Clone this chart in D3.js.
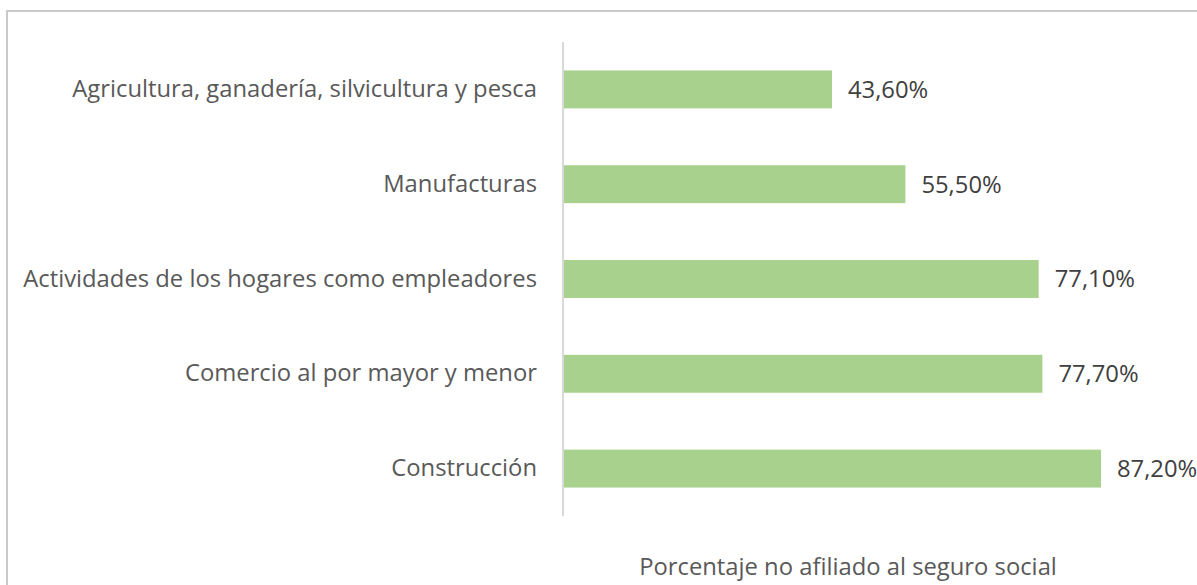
<!DOCTYPE html>
<html>
<head>
<meta charset="utf-8">
<script src="https://cdn.jsdelivr.net/npm/d3@7"></script>
<style>
  body { margin: 0; background: #fff; }
  svg { display: block; }
  text { font-family: "Open Sans", "Noto Sans", sans-serif; fill: #595959; }
</style>
</head>
<body>
<div id="chart"></div>
<script>
const categories = [
  'Agricultura, ganadería, silvicultura y pesca',
  'Manufacturas',
  'Actividades de los hogares como empleadores',
  'Comercio al por mayor y menor',
  'Construcción'
];
const values = [43.6, 55.5, 77.1, 77.7, 87.2];
const axisTitle = 'Porcentaje no afiliado al seguro social';

const width = 1197, height = 585;
const margin = { top: 42, left: 563, bottom: 69 };
const fontSize = 23.8;

const svg = d3.select('#chart').append('svg')
  .attr('width', width)
  .attr('height', height);

// chart frame (cut off right and bottom like the reference)
svg.append('rect')
  .attr('x', 7).attr('y', 11)
  .attr('width', 1300).attr('height', 700)
  .attr('fill', 'none')
  .attr('stroke', '#c9c9c9')
  .attr('stroke-width', 2);

const y = d3.scaleBand()
  .domain(categories)
  .range([margin.top, height - margin.bottom])
  .paddingInner(0.6)
  .paddingOuter(0.3);

const x = d3.scaleLinear()
  .domain([0, 87.2])
  .range([margin.left, 1101]);

const fmt = v => d3.format('.2f')(v).replace('.', ',') + '%';

svg.selectAll('rect.bar')
  .data(values)
  .join('rect')
  .attr('class', 'bar')
  .attr('x', x(0))
  .attr('y', (d, i) => y(categories[i]))
  .attr('width', d => x(d) - x(0))
  .attr('height', y.bandwidth())
  .attr('fill', '#a9d18e');

const yAxis = svg.append('g')
  .attr('transform', `translate(${x(0)},0)`)
  .call(d3.axisLeft(y).tickSize(0).tickPadding(26));
yAxis.select('.domain').attr('stroke', '#d9d9d9').attr('stroke-width', 2)
  .attr('d', `M0,${margin.top}V${height - margin.bottom}`);
yAxis.selectAll('text')
  .attr('font-size', fontSize)
  .attr('fill', '#595959')
  .attr('font-family', '"Open Sans", sans-serif');

svg.selectAll('text.val')
  .data(values)
  .join('text')
  .attr('class', 'val')
  .attr('x', d => x(d) + 16)
  .attr('y', (d, i) => y(categories[i]) + y.bandwidth() / 2)
  .attr('dy', '0.35em')
  .attr('font-size', fontSize)
  .style('fill', '#404040')
  .text(fmt);

svg.append('text')
  .attr('x', 848)
  .attr('y', 575)
  .attr('text-anchor', 'middle')
  .attr('font-size', fontSize)
  .text(axisTitle);
</script>
</body>
</html>
